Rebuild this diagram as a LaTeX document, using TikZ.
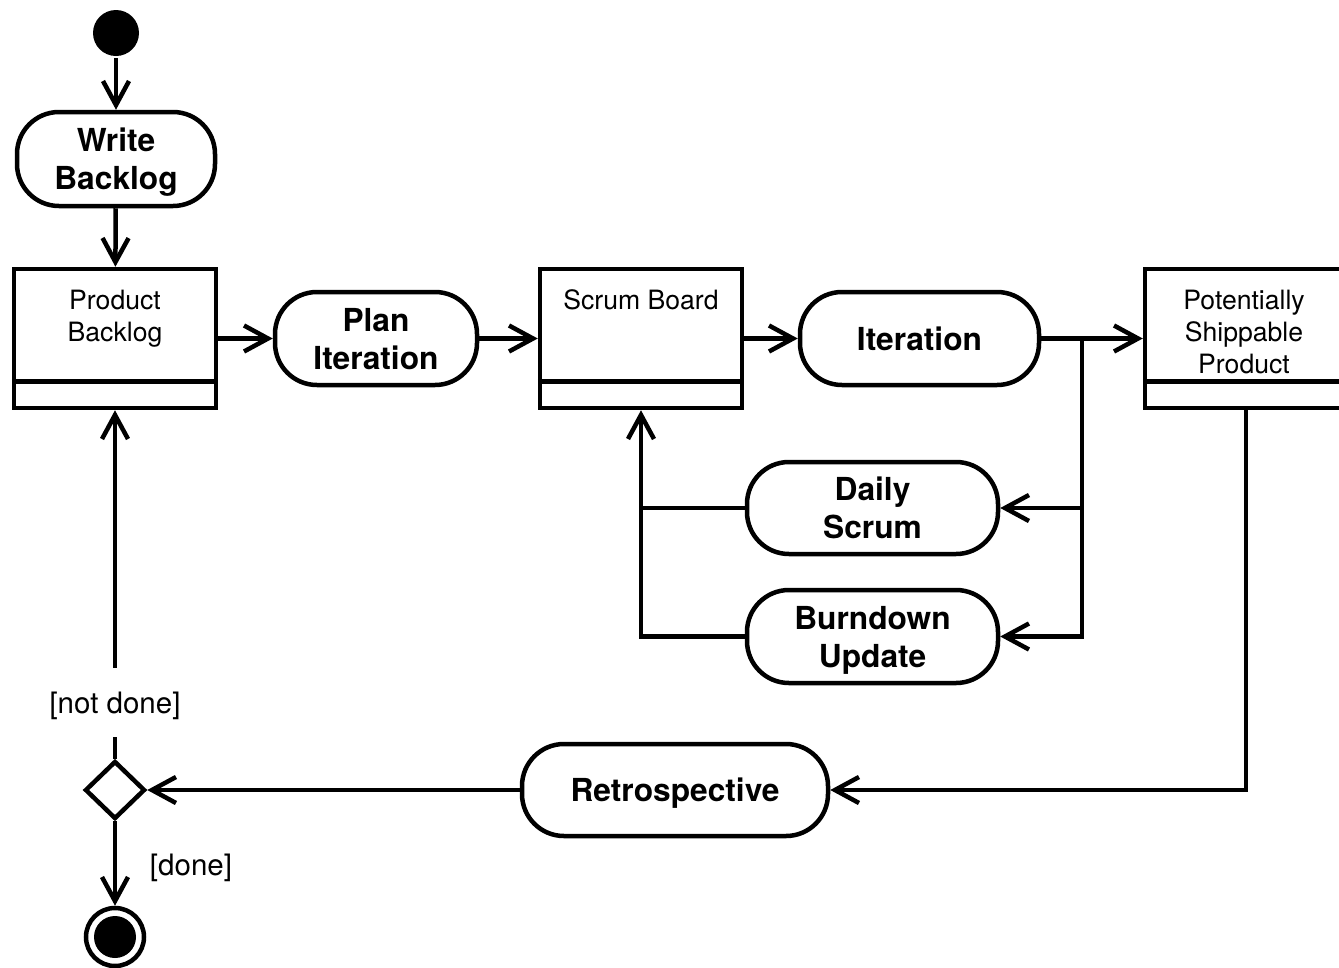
\documentclass[tikz,border=0pt]{standalone}
\usepackage{fontspec}
\setmainfont{TeX Gyre Heros}
\usetikzlibrary{arrows.meta,shapes.geometric}
\begin{document}
\begin{tikzpicture}[x=1pt,y=-1pt,
  line width=4.5pt,
  arr/.style={-{Straight Barb[length=24pt,width=26pt]}},
  action/.style={draw, rounded corners=42pt, inner sep=0pt, align=center, text depth=0pt,
    font=\fontsize{31.7}{38}\selectfont\bfseries},
  objbox/.style={draw, inner sep=0pt, minimum width=202pt, minimum height=139pt},
  objtext/.style={anchor=north, inner sep=0pt, align=center,
    font=\fontsize{26.6}{32}\selectfont},
  guard/.style={inner sep=0pt, text depth=0pt, font=\fontsize{29.5}{35}\selectfont},
]
\useasboundingbox (0,0) rectangle (1339,967);
\clip (0,0) rectangle (1339,967);

% nodes
\node[circle, fill, inner sep=0pt, minimum size=46pt] (init) at (116,33) {};
\node[action, minimum width=198pt, minimum height=94pt] (wb) at (116,159) {Write\\Backlog};
\node[objbox] (pb) at (115,338.5) {};
\node[objtext] (pbt) at (115,287.5) {Product\\Backlog};
\node[action, minimum width=202pt, minimum height=93pt] (pi) at (376,338.5) {Plan\\Iteration};
\node[objbox] (sb) at (641,338.5) {};
\node[objtext] (sbt) at (641,287.5) {Scrum Board};
\node[action, minimum width=239pt, minimum height=93pt] (it) at (919.5,338.5) {Iteration};
\node[objbox] (ps) at (1246,338.5) {};
\node[objtext] (pst) at (1244,287.5) {Potentially\\Shippable\\Product};
\node[action, minimum width=251pt, minimum height=92pt] (ds) at (872.5,508) {Daily\\Scrum};
\node[action, minimum width=251pt, minimum height=93pt] (bu) at (872.5,636.5) {Burndown\\Update};
\node[action, minimum width=306pt, minimum height=92pt] (re) at (675,790) {Retrospective};
\node[diamond, draw, inner sep=0pt, minimum width=60pt, minimum height=58pt] (dec) at (115,790) {};
\node[circle, draw, inner sep=0pt, minimum size=58pt] (fin) at (115,937) {};
\fill (fin.center) circle (21pt);
\node[guard, minimum height=65pt] (nd) at (115,702.5) {[not done]};
\node[guard] (dn) at (191,865) {[done]};
\coordinate (br) at (1082,338.5);

% object separators
\draw ([yshift=29pt]pb.south west) -- ([yshift=29pt]pb.south east);
\draw ([yshift=29pt]sb.south west) -- ([yshift=29pt]sb.south east);
\draw ([yshift=29pt]ps.south west) -- ([yshift=29pt]ps.south east);

% connectors
\draw[arr] (init) -- (wb);
\draw[arr] (wb) -- (pb);
\draw[arr] (pb) -- (pi);
\draw[arr] (pi) -- (sb);
\draw[arr] (sb) -- (it);
\draw[arr] (it) -- (ps);
\draw[arr] (br) |- (ds.east);
\draw[arr] (br) |- (bu.east);
\draw (ds.west) -- (ds.west -| sb.south);
\draw[arr] (bu.west) -| (sb.south);
\draw[arr] (ps.south) |- (re.east);
\draw[arr] (re) -- (dec);
\draw (dec) -- (nd);
\draw[arr] (nd) -- (pb.south);
\draw[arr] (dec) -- (fin);
\end{tikzpicture}
\end{document}
